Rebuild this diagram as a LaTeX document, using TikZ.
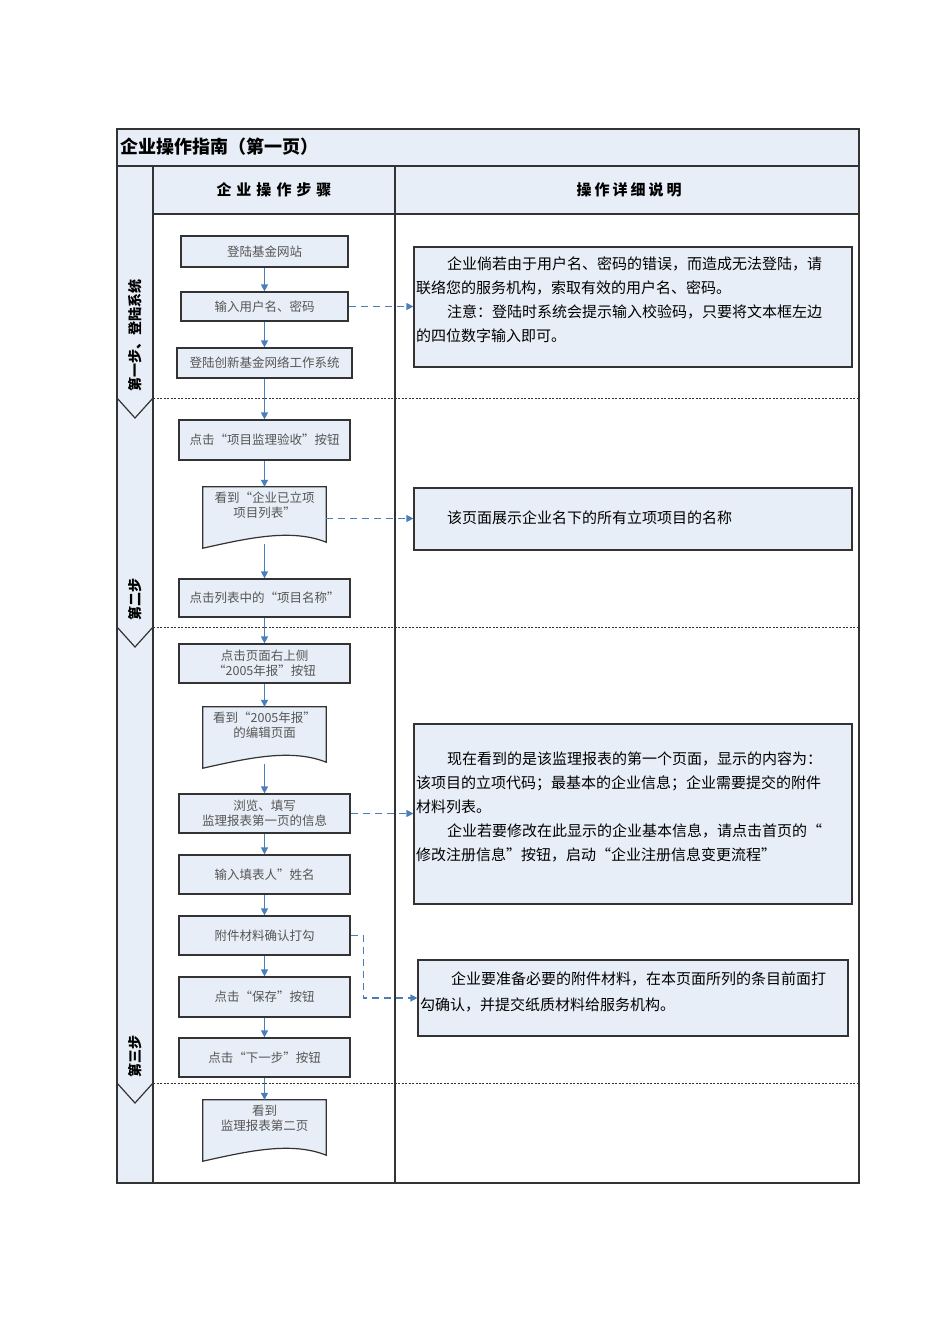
\documentclass[tikz,border=0pt]{standalone}
\usepackage{fontspec}
\setmainfont{Noto Sans CJK SC}
\usetikzlibrary{arrows.meta,calc}
\definecolor{boxfill}{HTML}{E8EEF7}
\definecolor{edge}{HTML}{333333}
\definecolor{arr}{HTML}{4A7EBB}
\definecolor{btxt}{HTML}{555555}
\tikzset{
  stepbox/.style={draw=edge,line width=1.2pt,fill=boxfill,inner sep=0pt,font=\fontsize{12.5}{15}\selectfont,text=btxt,align=center},
  docbox/.style={inner sep=0pt,font=\fontsize{12.5}{15}\selectfont,text=btxt,align=center},
  docline/.style={draw=edge,line width=1.2pt,fill=boxfill},
  infobox/.style={draw=edge,line width=1.2pt,fill=boxfill,inner sep=0pt},
  infotext/.style={font=\fontsize{15}{24}\selectfont,align=left,inner sep=0pt,anchor=north west},
  flow/.style={draw=arr,line width=1.2pt,-{Triangle[length=7pt,width=7pt]}},
  dflow/.style={draw=arr,line width=1.2pt,dash pattern=on 7pt off 5pt,-{Triangle[length=7pt,width=7pt]}},
  lane/.style={draw=edge,line width=1.2pt,fill=boxfill},
  sep/.style={draw=edge,line width=0.8pt,dash pattern=on 2pt off 1.5pt},
  frame/.style={draw=edge,line width=1.3pt},
}
\begin{document}
\begin{tikzpicture}[x=1pt,y=-1pt]
\useasboundingbox[fill=white] (0,0) rectangle (950,1344);
% header
\fill[boxfill] (117,129) rectangle (859,214);
\fill[white] (153,214) rectangle (859,1183);
\node[anchor=west,font=\fontsize{18}{20}\selectfont\bfseries,inner sep=0pt] (title) at (120,147) {企业操作指南（第一页）};
\node[font=\fontsize{15}{18}\selectfont\bfseries] (h1) at (274,190) {企\hskip 5pt 业\hskip 5pt 操\hskip 5pt 作\hskip 5pt 步\hskip 5pt 骤};
\node[font=\fontsize{15}{18}\selectfont\bfseries] (h2) at (629,190) {操\hskip 3pt 作\hskip 3pt 详\hskip 3pt 细\hskip 3pt 说\hskip 3pt 明};
% lanes (drawn from bottom up so the V tips overlay)
\draw[lane] (117,1083) rectangle (153,1183);
\draw[lane] (117,627) -- (153,627) -- (153,1083) -- (135,1103) -- (117,1083) -- cycle;
\draw[lane] (117,398) -- (153,398) -- (153,627) -- (135,647) -- (117,627) -- cycle;
\draw[lane] (117,166) -- (153,166) -- (153,398) -- (135,418) -- (117,398) -- cycle;
\node[rotate=90,anchor=west,font=\fontsize{14}{16}\selectfont\bfseries,inner sep=0pt] (p1) at (135,392) {第一步、登陆系统};
\node[rotate=90,anchor=west,font=\fontsize{14}{16}\selectfont\bfseries,inner sep=0pt] (p2) at (135,621) {第二步};
\node[rotate=90,anchor=west,font=\fontsize{14}{16}\selectfont\bfseries,inner sep=0pt] (p3) at (135,1078) {第三步};
% separators
\draw[sep] (153,398) -- (859,398);
\draw[sep] (153,627) -- (859,627);
\draw[sep] (153,1083) -- (859,1083);
% frame lines
\draw[frame] (117,129) rectangle (859,1183);
\draw[frame] (117,166) -- (859,166);
\draw[frame] (153,214) -- (859,214);
\draw[frame] (153,166) -- (153,1183);
\draw[frame] (395,166) -- (395,1183);
% step boxes
\node[stepbox,minimum width=167pt,minimum height=31pt] (b1) at (264.5,251.5) {登陆基金网站};
\node[stepbox,minimum width=167pt,minimum height=29pt] (b2) at (264.5,306.5) {输入用户名、密码};
\node[stepbox,minimum width=175pt,minimum height=30pt] (b3) at (264.5,363) {登陆创新基金网络工作系统};
\node[stepbox,minimum width=171pt,minimum height=40pt] (b4) at (264.5,440) {点击“项目监理验收”按钮};
\node[docbox,minimum width=123pt,minimum height=63pt] (b5) at (264.5,518.5) {};
\node[stepbox,minimum width=171pt,minimum height=38pt] (b6) at (264.5,598) {点击列表中的“项目名称”};
\node[stepbox,minimum width=171pt,minimum height=39pt] (b7) at (264.5,663.5) {点击页面右上侧\\“2005年报”按钮};
\node[docbox,minimum width=123pt,minimum height=63pt] (b8) at (264.5,738.5) {};
\node[stepbox,minimum width=171pt,minimum height=39pt] (b9) at (264.5,813.5) {浏览、填写\\监理报表第一页的信息};
\node[stepbox,minimum width=171pt,minimum height=39pt] (b10) at (264.5,874.5) {输入填表人”姓名};
\node[stepbox,minimum width=171pt,minimum height=39pt] (b11) at (264.5,935.5) {附件材料确认打勾};
\node[stepbox,minimum width=171pt,minimum height=40pt] (b12) at (264.5,997) {点击“保存”按钮};
\node[stepbox,minimum width=171pt,minimum height=39pt] (b13) at (264.5,1057.5) {点击“下一步”按钮};
\node[docbox,minimum width=123pt,minimum height=63pt] (b14) at (264.5,1131.5) {};
% document shapes
\foreach \n/\t in {b5/{看到“企业已立项\\项目列表”},b8/{看到“2005年报”\\的编辑页面},b14/{看到\\监理报表第二页}}{
  \draw[docline] (\n.north west) -- (\n.north east) -- ($(\n.south east)+(0,-8)$)
     .. controls +(-35,-14) and +(45,-10) .. ($(\n.south west)+(0,-2)$) -- cycle;
  \node[docbox,anchor=north] at ($(\n.north)+(0,5)$) {\t};
}
% flow arrows
\draw[flow] (b1) -- (b2);
\draw[flow] (b2) -- (b3);
\draw[flow] (b3) -- (b4);
\draw[flow] (b4) -- (b5);
\draw[flow] ($(b5.south)+(0,-6)$) -- (b6);
\draw[flow] (b6) -- (b7);
\draw[flow] (b7) -- (b8);
\draw[flow] ($(b8.south)+(0,-6)$) -- (b9);
\draw[flow] (b9) -- (b10);
\draw[flow] (b10) -- (b11);
\draw[flow] (b11) -- (b12);
\draw[flow] (b12) -- (b13);
\draw[flow] (b13) -- (b14);
% info boxes
\node[infobox,minimum width=438pt,minimum height=120pt] (r1) at (633,307) {};
\node[infotext] (t1) at (416,257) {\hspace*{31pt}企业倘若由于用户名、密码的错误，而造成无法登陆，请\\联络您的服务机构，索取有效的用户名、密码。\\\hspace*{31pt}注意：登陆时系统会提示输入校验码，只要将文本框左边\\的四位数字输入即可。};
\node[infobox,minimum width=438pt,minimum height=62pt] (r2) at (633,519) {};
\node[anchor=west,font=\fontsize{15}{18}\selectfont,inner sep=0pt] (t2) at (447,518) {该页面展示企业名下的所有立项项目的名称};
\node[infobox,minimum width=438pt,minimum height=180pt] (r3) at (633,814) {};
\node[infotext] (t3) at (416,752) {\hspace*{31pt}现在看到的是该监理报表的第一个页面，显示的内容为：\\该项目的立项代码；最基本的企业信息；企业需要提交的附件\\材料列表。\\\hspace*{31pt}企业若要修改在此显示的企业基本信息，请点击首页的“\\修改注册信息”按钮，启动“企业注册信息变更流程”};
\node[infobox,minimum width=430pt,minimum height=76pt] (r4) at (633,998) {};
\node[infotext,font=\fontsize{15}{26}\selectfont] (t4) at (420,972) {\hspace*{31pt}企业要准备必要的附件材料，在本页面所列的条目前面打\\勾确认，并提交纸质材料给服务机构。};
% dashed connectors
\draw[dflow] (b2.east) -- (b2.east -| r1.west);
\draw[dflow] (b5.east) -- (b5.east -| r2.west);
\draw[dflow] (b9.east) -- (b9.east -| r3.west);
\coordinate (k1) at ($(b11.east)+(13,0)$);
\coordinate (k2) at (k1 |- r4.west);
\draw[dflow] (b11.east) -- (k1) -- (k2) -- (r4.west);
\end{tikzpicture}
\end{document}
